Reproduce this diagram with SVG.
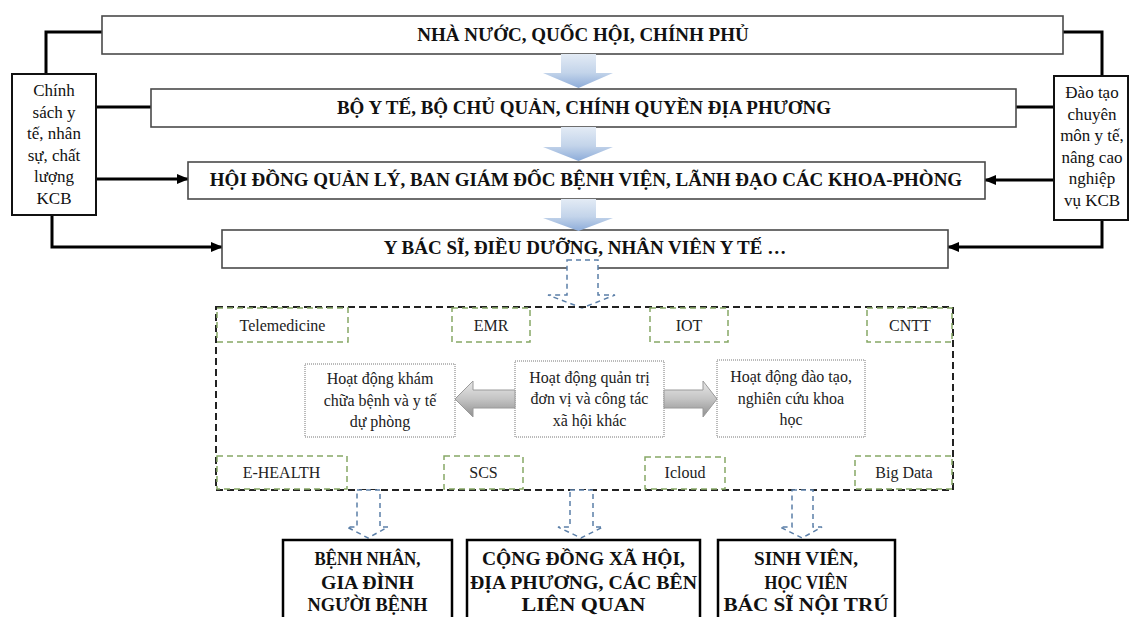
<svg xmlns="http://www.w3.org/2000/svg" width="1130" height="617" viewBox="0 0 1130 617">
<defs>
<linearGradient id="blueG" x1="0" y1="0" x2="0" y2="1">
<stop offset="0" stop-color="#e3ebf5"/>
<stop offset="0.55" stop-color="#c3d4ea"/>
<stop offset="1" stop-color="#8dacd9"/>
</linearGradient>
<linearGradient id="grayG" x1="0" y1="0" x2="0" y2="1">
<stop offset="0" stop-color="#e8e8e8"/>
<stop offset="0.5" stop-color="#c4c4c4"/>
<stop offset="1" stop-color="#8f8f8f"/>
</linearGradient>
<marker id="ah" markerUnits="userSpaceOnUse" markerWidth="12" markerHeight="10" refX="11" refY="5" orient="auto">
<path d="M0,0 L12,5 L0,10 Z" fill="#000"/>
</marker>
</defs>
<style>
.mb{fill:#fff;stroke:#4a4a4a;stroke-width:1.6}
.mt{font-family:"Liberation Serif",serif;font-weight:bold;font-size:19px;fill:#111;text-anchor:middle}
.sb{fill:#fff;stroke:#111;stroke-width:2}
.st{font-family:"Liberation Serif",serif;font-size:17px;fill:#111;text-anchor:middle}
.con{fill:none;stroke:#000;stroke-width:3}
.blk{fill:url(#blueG);stroke:none}
.cont{fill:none;stroke:#222;stroke-width:2;stroke-dasharray:7 4}
.gb{fill:none;stroke:#86a865;stroke-width:1.5;stroke-dasharray:6 4}
.lt{font-family:"Liberation Serif",serif;font-size:16px;fill:#222;text-anchor:middle}
.ab{fill:#fff;stroke:#777;stroke-width:1;stroke-dasharray:1 1}
.at{font-family:"Liberation Serif",serif;font-size:16px;fill:#222;text-anchor:middle}
.ga{fill:url(#grayG);stroke:#9a9a9a;stroke-width:1}
.da{fill:#fff;stroke:#5b7fa8;stroke-width:1.5;stroke-dasharray:5 4}
.bb{fill:#fff;stroke:#000;stroke-width:2.5}
.bt{font-family:"Liberation Serif",serif;font-weight:bold;font-size:19px;fill:#111;text-anchor:middle}
</style>
<rect width="1130" height="617" fill="#fff"/>

<g id="connectors">
<path class="con" d="M46,74 V32 H102"/>
<path class="con" d="M96,107 H151"/>
<path class="con" d="M96,179 H188" marker-end="url(#ah)"/>
<path class="con" d="M52,215 V247 H222" marker-end="url(#ah)"/>
<path class="con" d="M1063,32 H1102 V76"/>
<path class="con" d="M1016,107 H1054"/>
<path class="con" d="M1054,180 H985" marker-end="url(#ah)"/>
<path class="con" d="M1102,220 V247 H948" marker-end="url(#ah)"/>
</g>

<g id="n-nhanuoc">
<rect class="mb" x="102" y="16" width="961" height="38"/>
<text class="mt" x="583" y="40.5">NHÀ NƯỚC, QUỐC HỘI, CHÍNH PHỦ</text>
</g>
<g id="n-boyte">
<rect class="mb" x="151" y="89" width="865" height="38"/>
<text class="mt" x="584" y="113.5">BỘ Y TẾ, BỘ CHỦ QUẢN, CHÍNH QUYỀN ĐỊA PHƯƠNG</text>
</g>
<g id="n-hoidong">
<rect class="mb" x="188" y="162" width="797" height="37"/>
<text class="mt" x="586" y="186">HỘI ĐỒNG QUẢN LÝ, BAN GIÁM ĐỐC BỆNH VIỆN, LÃNH ĐẠO CÁC KHOA-PHÒNG</text>
</g>
<g id="n-ybacsi">
<rect class="mb" x="222" y="230" width="726" height="38"/>
<text class="mt" x="585" y="254">Y BÁC SĨ, ĐIỀU DƯỠNG, NHÂN VIÊN Y TẾ …</text>
</g>

<g id="n-chinhsach">
<rect class="sb" x="12" y="74" width="84" height="141"/>
<text class="st" x="54" y="96">Chính</text>
<text class="st" x="54" y="117.5">sách y</text>
<text class="st" x="54" y="139">tế, nhân</text>
<text class="st" x="54" y="160.5">sự, chất</text>
<text class="st" x="54" y="182">lượng</text>
<text class="st" x="54" y="203.5">KCB</text>
</g>
<g id="n-daotao">
<rect class="sb" x="1054" y="76" width="74" height="144"/>
<text class="st" x="1092" y="98">Đào tạo</text>
<text class="st" x="1092" y="119.5">chuyên</text>
<text class="st" x="1092" y="141">môn y tế,</text>
<text class="st" x="1092" y="162.5">nâng cao</text>
<text class="st" x="1092" y="184">nghiệp</text>
<text class="st" x="1092" y="205.5">vụ KCB</text>
</g>

<g id="blockarrows">
<path class="blk" d="M561,54 H596 V73 H613 L578.5,88 L543,73 H561 Z"/>
<path class="blk" d="M561,127 H596 V147 H613 L578.5,161 L543,147 H561 Z"/>
<path class="blk" d="M561,199 H596 V218 H613 L578.5,231 L543,218 H561 Z"/>
</g>

<g id="dashed-arrow-top">
<path class="da" d="M567,260 H598 V295 H615 L582,308 L548,295 H567 Z"/>
</g>

<g id="n-container">
<rect class="cont" x="216" y="307" width="737" height="183"/>
</g>

<g id="n-telemedicine"><rect class="gb" x="217" y="308" width="131" height="34"/><text class="lt" x="282.5" y="330.5">Telemedicine</text></g>
<g id="n-emr"><rect class="gb" x="452" y="308" width="78" height="34"/><text class="lt" x="491" y="330.5">EMR</text></g>
<g id="n-iot"><rect class="gb" x="650" y="308" width="78" height="34"/><text class="lt" x="689" y="330.5">IOT</text></g>
<g id="n-cntt"><rect class="gb" x="867" y="308" width="85" height="34"/><text class="lt" x="910" y="330.5">CNTT</text></g>
<g id="n-ehealth"><rect class="gb" x="217" y="456" width="130" height="33"/><text class="lt" x="281.5" y="477.5">E-HEALTH</text></g>
<g id="n-scs"><rect class="gb" x="444" y="456" width="79" height="33"/><text class="lt" x="483.5" y="477.5">SCS</text></g>
<g id="n-icloud"><rect class="gb" x="645" y="457" width="80" height="32"/><text class="lt" x="685" y="477.5">Icloud</text></g>
<g id="n-bigdata"><rect class="gb" x="855" y="456" width="97" height="33"/><text class="lt" x="904" y="477.5">Big Data</text></g>

<g id="n-kham">
<rect class="ab" x="305" y="364" width="150" height="73"/>
<text class="at" x="380" y="384">Hoạt động khám</text>
<text class="at" x="380" y="405.5">chữa bệnh và y tế</text>
<text class="at" x="380" y="427">dự phòng</text>
</g>
<g id="n-quantri">
<rect class="ab" x="515" y="361" width="149" height="76"/>
<text class="at" x="589.5" y="382.5">Hoạt động quản trị</text>
<text class="at" x="589.5" y="404">đơn vị và công tác</text>
<text class="at" x="589.5" y="425.5">xã hội khác</text>
</g>
<g id="n-daotaonc">
<rect class="ab" x="717" y="360" width="148" height="77"/>
<text class="at" x="791" y="382">Hoạt động đào tạo,</text>
<text class="at" x="791" y="403.5">nghiên cứu khoa</text>
<text class="at" x="791" y="425">học</text>
</g>

<g id="grayarrows">
<path class="ga" d="M455,399 L473,381 V390 H515 V408 H473 V417 Z"/>
<path class="ga" d="M664,390 H703 V381 L717,399 L703,417 V408 H664 Z"/>
</g>

<g id="dashed-arrows-bottom">
<path class="da" d="M357,490 H380 V527 H388 L368,538 L347,527 H357 Z"/>
<path class="da" d="M570,490 H593 V527 H603 L581,538 L558,527 H570 Z"/>
<path class="da" d="M792,490 H813 V527 H822 L802,538 L780,527 H792 Z"/>
</g>

<g id="n-benhnhan">
<rect class="bb" x="283" y="540" width="169" height="82"/>
<text class="bt" x="367.5" y="565" textLength="106" lengthAdjust="spacingAndGlyphs">BỆNH NHÂN,</text>
<text class="bt" x="367.5" y="588.5" textLength="93" lengthAdjust="spacingAndGlyphs">GIA ĐÌNH</text>
<text class="bt" x="367.5" y="611" textLength="120" lengthAdjust="spacingAndGlyphs">NGƯỜI BỆNH</text>
</g>
<g id="n-congdong">
<rect class="bb" x="467" y="540" width="233" height="82"/>
<text class="bt" x="583.5" y="565" textLength="203" lengthAdjust="spacingAndGlyphs">CỘNG ĐỒNG XÃ HỘI,</text>
<text class="bt" x="583.5" y="588.5" textLength="227" lengthAdjust="spacingAndGlyphs">ĐỊA PHƯƠNG, CÁC BÊN</text>
<text class="bt" x="583.5" y="611" textLength="124" lengthAdjust="spacingAndGlyphs">LIÊN QUAN</text>
</g>
<g id="n-sinhvien">
<rect class="bb" x="718" y="540" width="177" height="82"/>
<text class="bt" x="806" y="565" textLength="104" lengthAdjust="spacingAndGlyphs">SINH VIÊN,</text>
<text class="bt" x="806" y="588.5" textLength="83" lengthAdjust="spacingAndGlyphs">HỌC VIÊN</text>
<text class="bt" x="806" y="611" textLength="165" lengthAdjust="spacingAndGlyphs">BÁC SĨ NỘI TRÚ</text>
</g>
</svg>
